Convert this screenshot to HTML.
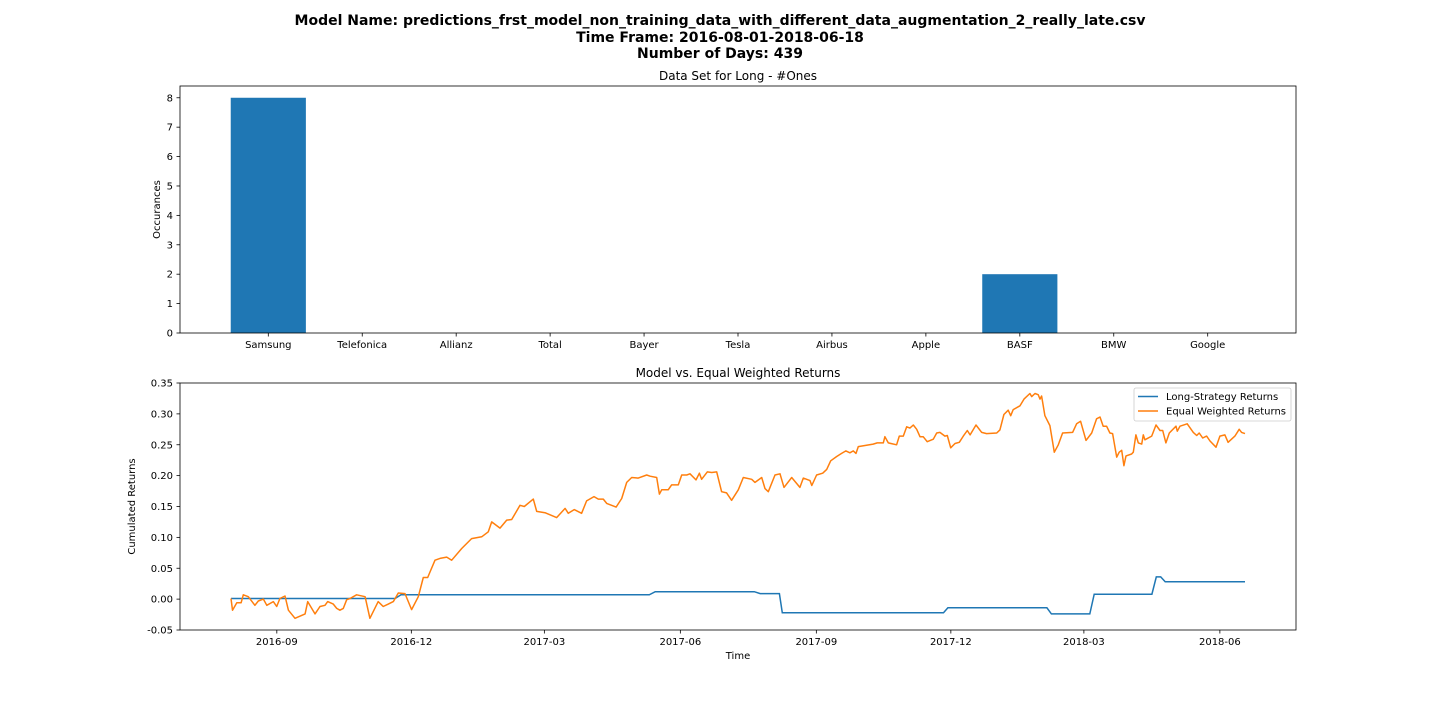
<!DOCTYPE html>
<html><head><meta charset="utf-8"><style>
body{margin:0;background:#fff;}
svg{display:block;font-family:"DejaVu Sans","Liberation Sans",sans-serif;}
</style></head><body>
<svg id="fig" width="1440" height="720">
<rect width="1440" height="720" fill="#fff"/>
<text x="720" y="25" text-anchor="middle" font-size="14" font-weight="bold">Model Name: predictions_frst_model_non_training_data_with_different_data_augmentation_2_really_late.csv</text>
<text x="720" y="42" text-anchor="middle" font-size="14" font-weight="bold">Time Frame: 2016-08-01-2018-06-18</text>
<text x="720" y="58" text-anchor="middle" font-size="14" font-weight="bold">Number of Days: 439</text>
<g id="topchart"></g>
<g id="botchart"></g>
</svg>
<script>
const barCategories=["Samsung","Telefonica","Allianz","Total","Bayer","Tesla","Airbus","Apple","BASF","BMW","Google"];
const barValues=[8,0,0,0,0,0,0,0,2,0,0];
const barYTicks=[0,1,2,3,4,5,6,7,8];
const lineYTicks=[-0.05,0,0.05,0.10,0.15,0.20,0.25,0.30,0.35];
const lineXTickLabels=["2016-09","2016-12","2017-03","2017-06","2017-09","2017-12","2018-03","2018-06"];
const lineXTickDays=[31,122,212,304,396,487,577,669];
const longDays=[0,111,115,283,287,354,358,371,373,482,485,552,555,581,584,623,626,629,632,686];
const longValues=[0.001,0.001,0.007,0.007,0.012,0.012,0.009,0.009,-0.022,-0.022,-0.014,-0.014,-0.024,-0.024,0.008,0.008,0.036,0.036,0.028,0.028];
const eqDays=[0,1,3.9,6.8,8.3,11.7,16.2,18.5,21.9,24.2,28.6,30.9,33.1,36.5,38.8,43.3,50.1,51.9,56.8,60.2,63.6,65.4,69.2,71.5,73.7,76,78.3,80.5,85,90.7,94,99.6,103,106.4,109.8,113.2,117.7,122.2,126.7,130.1,133.1,134.6,138,141.4,145.9,149.3,156.1,162.8,169.6,174.1,176.4,182,186.5,189.9,195.5,198.4,204.5,206.8,212.4,220.3,226,228.2,232.2,237.2,240.6,245.6,248.5,251.9,254.2,260.5,264.3,267.7,271.1,275.5,281.2,283.5,288,289.8,291.4,295.8,298.1,302.6,304.9,308.3,310.5,314.6,316.9,318.4,322.2,325.2,328.6,331.9,335.3,338.7,343.2,346.6,352.3,354.5,359,361.3,363.5,368,371.4,374.1,379.3,384.9,387.2,391.7,392.9,396.2,400.3,403,405.7,409.8,413.1,416,418.7,421,422.8,424.4,434.5,437.2,441.3,442.4,444.7,450.3,452.1,454.8,457.1,459.3,461.6,463.9,466.1,468.3,471,475.1,477.4,479.6,483,484.6,486.9,489.8,492.7,495.4,498.1,500,504,507.9,511.2,518,520.2,522.9,525.8,527.5,529.2,533.8,536.5,540.5,541.7,543.9,546.1,547.3,548.4,550.6,554,554.5,557,559.7,562.6,569.4,572.1,574.8,578.4,582.3,585.6,587.9,590.1,592.4,594.6,596.4,599.2,600.9,602.6,604.1,605.5,609.3,610.4,612.2,613.8,616.1,617.2,618.3,622.9,625.8,628.5,630.3,632.5,634.8,639.3,640.2,642,646.9,651,653.3,655,657.4,660,662.3,666.4,669,672.4,674.6,679.2,682.1,683.7,686];
const eqValues=[0.001,-0.018,-0.006,-0.006,0.007,0.004,-0.01,-0.003,0,-0.01,-0.004,-0.012,0.001,0.005,-0.018,-0.031,-0.024,-0.004,-0.024,-0.012,-0.01,-0.004,-0.008,-0.015,-0.018,-0.015,-0.001,0.001,0.007,0.004,-0.031,-0.004,-0.012,-0.008,-0.004,0.010,0.009,-0.017,0.004,0.035,0.035,0.044,0.063,0.066,0.068,0.063,0.082,0.098,0.101,0.109,0.125,0.115,0.128,0.129,0.152,0.150,0.162,0.142,0.140,0.132,0.147,0.139,0.145,0.139,0.159,0.166,0.162,0.162,0.155,0.149,0.163,0.189,0.197,0.196,0.201,0.199,0.197,0.170,0.177,0.177,0.185,0.185,0.201,0.201,0.203,0.193,0.204,0.194,0.206,0.205,0.206,0.174,0.172,0.160,0.177,0.197,0.194,0.189,0.197,0.179,0.174,0.201,0.203,0.181,0.197,0.181,0.196,0.192,0.184,0.201,0.204,0.210,0.224,0.231,0.236,0.240,0.237,0.240,0.236,0.247,0.251,0.253,0.253,0.263,0.253,0.250,0.264,0.264,0.279,0.277,0.282,0.275,0.263,0.263,0.255,0.259,0.269,0.270,0.264,0.265,0.245,0.252,0.254,0.264,0.273,0.266,0.282,0.270,0.268,0.269,0.274,0.299,0.306,0.297,0.307,0.313,0.324,0.333,0.328,0.333,0.331,0.324,0.329,0.297,0.281,0.274,0.238,0.250,0.269,0.270,0.284,0.288,0.257,0.269,0.292,0.295,0.280,0.280,0.269,0.268,0.230,0.238,0.241,0.216,0.232,0.235,0.238,0.266,0.253,0.251,0.266,0.258,0.264,0.282,0.273,0.273,0.253,0.269,0.280,0.272,0.280,0.284,0.270,0.265,0.269,0.261,0.264,0.256,0.246,0.264,0.266,0.254,0.264,0.275,0.270,0.268];

const NS="http://www.w3.org/2000/svg";
function mk(parent,tag,attrs,text){const e=document.createElementNS(NS,tag);for(const k in attrs)e.setAttribute(k,attrs[k]);if(text!==undefined)e.textContent=text;parent.appendChild(e);return e;}

// Top chart
const T={l:180,r:1296,t:86,b:333};
const bx=i=>T.l+(i+0.94)/(11.88)*(T.r-T.l);
const by=v=>T.b-v/8.4*(T.b-T.t);
const topG=document.getElementById('topchart');
const tt=mk(topG,'text',{x:738,y:80,'text-anchor':'middle','font-size':12},'Data Set for Long - #Ones');


barValues.forEach((v,i)=>{
  const w=0.8/11.88*(T.r-T.l);
  const r=mk(topG,'rect',{x:bx(i)-w/2,y:by(v),width:w,height:by(0)-by(v),fill:'#1f77b4'});
  
  
  mk(topG,'line',{x1:bx(i),x2:bx(i),y1:T.b,y2:T.b+3.5,stroke:'#000','stroke-width':0.8});
  const t=mk(topG,'text',{x:bx(i),y:T.b+15,'text-anchor':'middle','font-size':10},barCategories[i]);
  
  
});
barYTicks.forEach(v=>{
  mk(topG,'line',{x1:T.l-3.5,x2:T.l,y1:by(v),y2:by(v),stroke:'#000','stroke-width':0.8});
  const t=mk(topG,'text',{x:T.l-7,y:by(v)+3.5,'text-anchor':'end','font-size':10},String(v));
  
  
});
mk(topG,'rect',{x:T.l,y:T.t,width:T.r-T.l,height:T.b-T.t,fill:'none',stroke:'#000','stroke-width':0.8});
const yt=mk(topG,'text',{x:0,y:0,'text-anchor':'middle','font-size':10,transform:`translate(160,${(T.t+T.b)/2}) rotate(-90)`},'Occurances');



// Bottom chart
const B={l:180,r:1296,t:383,b:630};
const lx=d=>231+d*(1014/686);
const ly=v=>B.b-(v+0.05)/0.4*(B.b-B.t);
const botG=document.getElementById('botchart');
const bt=mk(botG,'text',{x:738,y:377,'text-anchor':'middle','font-size':12},'Model vs. Equal Weighted Returns');


lineYTicks.forEach(v=>{
  mk(botG,'line',{x1:B.l-3.5,x2:B.l,y1:ly(v),y2:ly(v),stroke:'#000','stroke-width':0.8});
  const t=mk(botG,'text',{x:B.l-7,y:ly(v)+3.5,'text-anchor':'end','font-size':10},v.toFixed(2));
  
  
});
lineXTickDays.forEach((d,i)=>{
  mk(botG,'line',{x1:lx(d),x2:lx(d),y1:B.b,y2:B.b+3.5,stroke:'#000','stroke-width':0.8});
  const t=mk(botG,'text',{x:lx(d),y:B.b+15,'text-anchor':'middle','font-size':10},lineXTickLabels[i]);
  
  
});
function pts(ds,vs){const n=Math.min(ds.length,vs.length);const a=[];for(let i=0;i<n;i++)a.push(lx(ds[i]).toFixed(1)+','+ly(vs[i]).toFixed(1));return a.join(' ');}
const l1=mk(botG,'polyline',{points:pts(longDays,longValues),fill:'none',stroke:'#1f77b4','stroke-width':1.5});


const l2=mk(botG,'polyline',{points:pts(eqDays,eqValues),fill:'none',stroke:'#ff7f0e','stroke-width':1.5,'stroke-linejoin':'round'});


mk(botG,'rect',{x:B.l,y:B.t,width:B.r-B.l,height:B.b-B.t,fill:'none',stroke:'#000','stroke-width':0.8});
const yt2=mk(botG,'text',{x:0,y:0,'text-anchor':'middle','font-size':10,transform:`translate(135,${(B.t+B.b)/2}) rotate(-90)`},'Cumulated Returns');


const xt=mk(botG,'text',{x:738,y:659,'text-anchor':'middle','font-size':10},'Time');


const lg=mk(botG,'g',{});


mk(lg,'rect',{x:1134,y:388,width:157,height:33,rx:2,fill:'#fff',stroke:'#ccc','stroke-width':0.8});
mk(lg,'line',{x1:1138,x2:1158,y1:396.5,y2:396.5,stroke:'#1f77b4','stroke-width':1.5});
const e1=mk(lg,'text',{x:1166,y:400,'font-size':10},'Long-Strategy Returns');


mk(lg,'line',{x1:1138,x2:1158,y1:411,y2:411,stroke:'#ff7f0e','stroke-width':1.5});
const e2=mk(lg,'text',{x:1166,y:414.5,'font-size':10},'Equal Weighted Returns');


</script>
</body></html>
